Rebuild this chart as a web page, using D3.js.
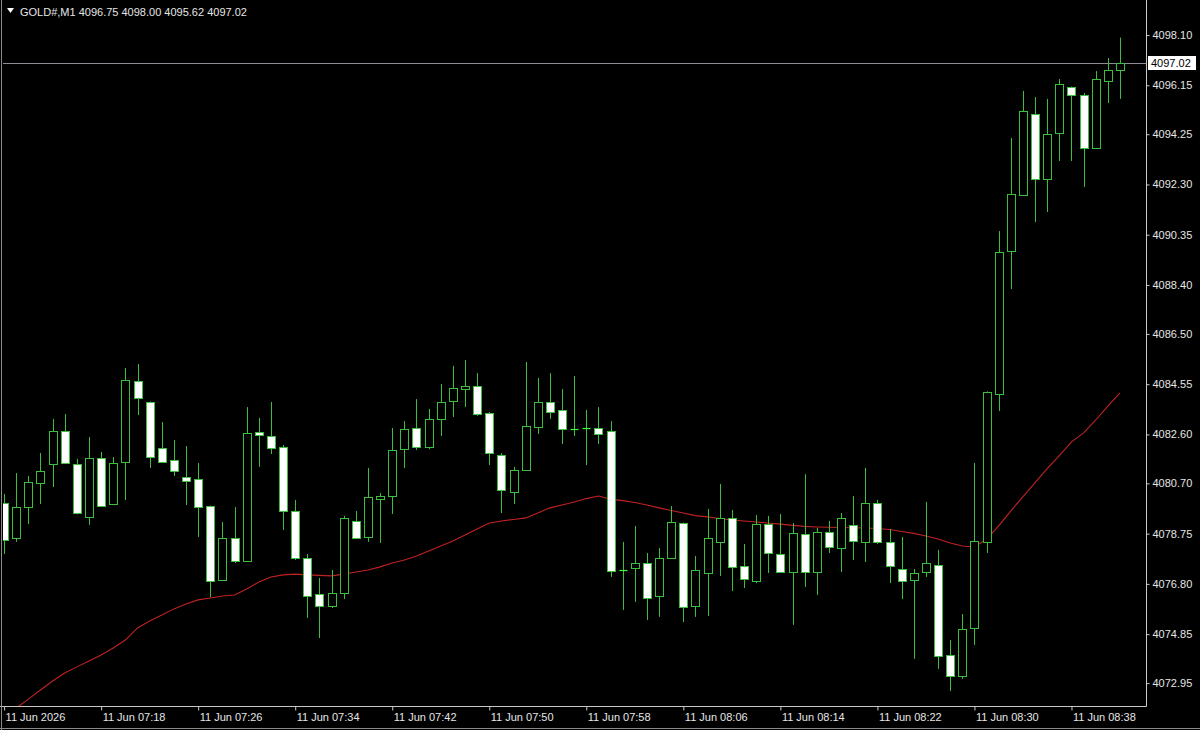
<!DOCTYPE html>
<html><head><meta charset="utf-8">
<script src="https://cdn.jsdelivr.net/npm/d3@7"></script>
<style>html,body{margin:0;padding:0;background:#000;overflow:hidden;} svg{display:block;}</style>
</head><body>
<svg id="c" width="1200" height="730"></svg>
<script>
// ---------- data ----------
const symbol = "GOLD#,M1";
const headerOHLC = ["4096.75", "4098.00", "4095.62", "4097.02"];
const lastPrice = 4097.02;

const opens = [4079.94,4078.58,4079.78,4080.72,4081.45,4082.73,4081.45,4079.40,4081.69,4079.90,
4081.53,4084.67,4083.86,4082.07,4081.61,4080.95,4080.87,4079.82,4076.95,4078.58,
4077.69,4082.69,4082.54,4082.11,4079.63,4077.80,4076.41,4075.94,4076.45,4079.24,
4078.62,4080.09,4080.21,4082.03,4082.85,4082.11,4083.20,4083.90,4084.36,4084.48,
4083.43,4081.80,4080.37,4081.22,4082.89,4083.86,4083.55,4082.81,4082.83,4082.85,
4082.73,4077.34,4077.42,4077.61,4076.33,4077.80,4079.16,4075.94,4077.22,4078.43,
4079.36,4077.49,4076.91,4079.12,4077.96,4077.26,4078.74,4077.24,4078.81,4078.19,
4079.09,4078.43,4079.94,4078.41,4077.38,4076.95,4077.26,4077.53,4074.04,4073.23,
4075.09,4078.43,4084.17,4089.72,4091.89,4095.03,4092.51,4094.30,4096.08,4095.77,
4093.71,4096.31,4096.75];
const highs = [4080.29,4081.10,4080.99,4081.88,4083.20,4083.39,4081.65,4082.50,4081.92,4081.72,
4085.18,4085.33,4083.88,4083.08,4082.38,4082.15,4081.49,4079.84,4079.20,4079.78,
4083.66,4083.24,4083.86,4082.19,4080.06,4077.96,4077.03,4077.34,4079.44,4079.63,
4081.30,4080.33,4082.85,4083.12,4083.97,4083.59,4084.56,4085.26,4085.49,4084.98,
4083.47,4081.88,4081.34,4085.41,4084.79,4084.98,4084.36,4084.87,4083.55,4083.66,
4083.12,4078.43,4079.05,4078.00,4078.19,4079.82,4079.18,4077.88,4079.71,4080.68,
4079.67,4078.35,4079.47,4079.44,4079.51,4079.16,4081.06,4078.97,4079.24,4079.55,
4080.21,4081.30,4080.06,4078.93,4078.62,4077.38,4079.98,4078.12,4074.62,4075.63,
4081.49,4084.27,4090.49,4094.10,4095.93,4095.69,4095.62,4096.39,4096.10,4095.85,
4096.70,4097.21,4098.00];
const lows = [4077.96,4078.43,4079.12,4079.90,4080.56,4081.45,4079.50,4079.09,4079.78,4079.88,
4080.06,4083.35,4081.30,4081.49,4080.99,4079.86,4078.62,4076.29,4076.93,4077.61,
4077.67,4081.34,4081.84,4078.89,4077.73,4075.48,4074.70,4075.86,4076.21,4078.56,
4078.43,4078.39,4079.51,4081.30,4082.00,4082.03,4082.54,4083.28,4083.66,4083.32,
4081.41,4079.55,4079.90,4081.18,4082.62,4083.20,4082.23,4082.54,4081.41,4082.23,
4077.07,4075.79,4076.10,4075.40,4075.52,4077.78,4075.32,4075.52,4075.55,4077.11,
4076.52,4076.64,4076.83,4077.22,4077.24,4075.21,4076.68,4076.37,4078.00,4077.26,
4077.73,4077.65,4078.35,4076.83,4076.21,4073.89,4077.07,4073.50,4072.64,4073.11,
4074.43,4078.00,4083.51,4088.24,4091.87,4090.84,4091.23,4093.21,4093.21,4092.20,
4093.69,4095.46,4095.62];
const closes = [4078.50,4079.78,4080.75,4081.18,4082.73,4081.49,4079.55,4081.69,4079.82,4081.49,
4084.71,4084.01,4081.72,4081.53,4081.18,4080.79,4079.78,4076.91,4078.58,4077.69,
4082.66,4082.58,4082.07,4079.63,4077.80,4076.33,4075.94,4076.45,4079.36,4078.58,
4080.17,4080.21,4082.00,4082.81,4082.11,4083.20,4083.86,4084.40,4084.48,4083.39,
4081.88,4080.44,4081.22,4082.93,4083.86,4083.47,4082.81,4082.81,4082.83,4082.62,
4077.30,4077.34,4077.61,4076.25,4077.80,4079.20,4075.90,4077.34,4078.58,4079.36,
4077.46,4076.99,4079.12,4078.00,4077.26,4078.78,4077.26,4078.81,4078.23,4079.36,
4078.46,4079.94,4078.43,4077.49,4076.91,4077.22,4077.61,4074.00,4073.23,4075.05,
4078.46,4084.25,4089.68,4091.93,4095.15,4092.51,4094.26,4096.20,4095.77,4093.71,
4096.39,4096.74,4097.02];
const maValues = [4071.67,4071.98,4072.33,4072.68,4073.03,4073.34,4073.58,4073.81,4074.04,4074.31,
4074.62,4075.09,4075.36,4075.59,4075.83,4076.02,4076.18,4076.25,4076.33,4076.37,
4076.60,4076.87,4077.07,4077.15,4077.18,4077.15,4077.13,4077.11,4077.18,4077.26,
4077.34,4077.46,4077.61,4077.73,4077.88,4078.08,4078.27,4078.46,4078.70,4078.93,
4079.16,4079.24,4079.30,4079.36,4079.55,4079.75,4079.86,4079.98,4080.11,4080.21,
4080.09,4080.03,4079.96,4079.86,4079.75,4079.65,4079.55,4079.45,4079.40,4079.34,
4079.28,4079.24,4079.20,4079.16,4079.12,4079.07,4079.03,4079.01,4079.00,4078.99,
4078.98,4078.97,4078.95,4078.91,4078.83,4078.76,4078.66,4078.54,4078.39,4078.27,
4078.23,4078.54,4079.05,4079.63,4080.19,4080.73,4081.27,4081.78,4082.31,4082.66,
4083.16,4083.70,4084.21];
const priceTicks = [4098.10,4096.15,4094.25,4092.30,4090.35,4088.40,4086.50,4084.55,4082.60,4080.70,4078.75,4076.80,4074.85,4072.95];
const timeTickIndex = [0,8,16,24,32,40,48,56,64,72,80,88];
const timeTickLabels = ["11 Jun 2026","11 Jun 07:18","11 Jun 07:26","11 Jun 07:34","11 Jun 07:42","11 Jun 07:50","11 Jun 07:58","11 Jun 08:06","11 Jun 08:14","11 Jun 08:22","11 Jun 08:30","11 Jun 08:38"];

// ---------- layout ----------
const W = 1200, H = 730;
const plot = {left: 3, right: 1146, top: 3, bottom: 706};
const green = "#3cbf3c", red = "#c02222", fg = "#e6e6e6";
const font = "'Liberation Sans', Arial, sans-serif";

const bars = opens.map((o, i) => ({i, o, h: highs[i], l: lows[i], c: closes[i]}));
const x = d3.scaleLinear().domain([0, bars.length - 1]).range([4.1, 1120]);
const y = d3.scaleLinear().domain([4072.95, 4098.10]).range([683.1, 35]);

const svg = d3.select("#c");
svg.append("rect").attr("width", W).attr("height", H).attr("fill", "#000");

svg.append("defs").append("clipPath").attr("id", "plotclip")
  .append("rect").attr("x", plot.left).attr("y", plot.top)
  .attr("width", plot.right - plot.left).attr("height", plot.bottom - plot.top);

const g = svg.append("g").attr("clip-path", "url(#plotclip)");

// bid line
g.append("line").attr("x1", plot.left).attr("x2", plot.right)
  .attr("y1", Math.round(y(lastPrice)) + 0.5).attr("y2", Math.round(y(lastPrice)) + 0.5)
  .attr("stroke", "#8c8c94").attr("stroke-width", 1);

// moving average
g.append("path").datum(maValues)
  .attr("fill", "none").attr("stroke", red).attr("stroke-width", 1.1)
  .attr("d", d3.line().x((d, i) => x(i)).y(d => y(d)));

// candles
const px = v => Math.round(v);
const cg = g.selectAll("g.bar").data(bars).join("g").attr("class", "bar");
cg.append("line")
  .attr("x1", d => px(x(d.i)) + 0.5).attr("x2", d => px(x(d.i)) + 0.5)
  .attr("y1", d => y(d.h)).attr("y2", d => y(d.l))
  .attr("stroke", green).attr("stroke-width", 1);
cg.filter(d => d.o !== d.c).append("rect")
  .attr("x", d => px(x(d.i)) - 3.5)
  .attr("width", 8)
  .attr("y", d => Math.round(y(Math.max(d.o, d.c))) + 0.5)
  .attr("height", d => Math.max(1, Math.round(Math.abs(y(d.o) - y(d.c)))))
  .attr("fill", d => d.c > d.o ? "#000" : "#fff")
  .attr("stroke", green).attr("stroke-width", 1);
cg.filter(d => d.o === d.c).append("line")
  .attr("x1", d => px(x(d.i)) - 3.5).attr("x2", d => px(x(d.i)) + 4.5)
  .attr("y1", d => Math.round(y(d.o)) + 0.5).attr("y2", d => Math.round(y(d.o)) + 0.5)
  .attr("stroke", "#3cff3c").attr("stroke-width", 1.2);

// frame / axes lines
svg.append("line").attr("x1", plot.right + 0.5).attr("x2", plot.right + 0.5)
  .attr("y1", 0).attr("y2", plot.bottom + 0.5).attr("stroke", "#c8c8c8");
svg.append("line").attr("x1", 0).attr("x2", plot.right + 0.5)
  .attr("y1", plot.bottom + 0.5).attr("y2", plot.bottom + 0.5).attr("stroke", "#c8c8c8");
svg.append("line").attr("x1", 1.5).attr("x2", 1.5).attr("y1", 0).attr("y2", H)
  .attr("stroke", "#8a8a8a");
svg.append("line").attr("x1", 0).attr("x2", W).attr("y1", H - 1.5).attr("y2", H - 1.5)
  .attr("stroke", "#8a8a8a");

// price axis
const yAxis = d3.axisRight(y).tickValues(priceTicks).tickFormat(d3.format(".2f"))
  .tickSize(3).tickPadding(3);
const ya = svg.append("g").attr("transform", `translate(${plot.right + 0.5},0)`).call(yAxis);
ya.select(".domain").remove();
ya.selectAll(".tick line").attr("stroke", "#c8c8c8");
ya.selectAll(".tick text").attr("fill", fg).style("font-family", font).style("font-size", "11px");

// time axis
const xAxis = d3.axisBottom(x).tickValues(timeTickIndex)
  .tickFormat((d, k) => timeTickLabels[k]).tickSize(4).tickPadding(3);
const xa = svg.append("g").attr("transform", `translate(0,${plot.bottom + 0.5})`).call(xAxis);
xa.select(".domain").remove();
xa.selectAll(".tick line").attr("stroke", "#c8c8c8");
xa.selectAll(".tick text").attr("fill", fg).attr("text-anchor", "start").attr("x", 1)
  .style("font-family", font).style("font-size", "11px");

// last price label
const ly = Math.round(y(lastPrice));
svg.append("rect").attr("x", plot.right + 2).attr("y", ly - 7).attr("width", 48).attr("height", 14)
  .attr("fill", "#fff");
svg.append("text").attr("x", plot.right + 5).attr("y", ly + 4)
  .attr("fill", "#000").style("font-family", font).style("font-size", "11px")
  .text(d3.format(".2f")(lastPrice));

// header
svg.append("path").attr("d", "M7,8 L14,8 L10.5,13 Z").attr("fill", "#fff");
svg.append("text").attr("x", 20).attr("y", 16).attr("fill", fg)
  .style("font-family", font).style("font-size", "11px")
  .text(symbol + "  " + headerOHLC.join(" "));
</script>
</body></html>
